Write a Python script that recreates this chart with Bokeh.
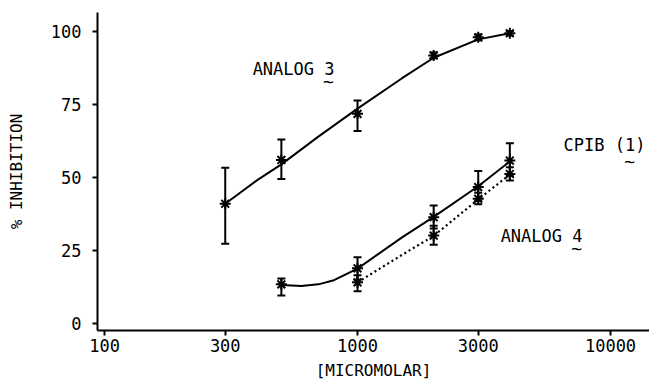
from bokeh.plotting import figure
from bokeh.models import (FixedTicker, PrintfTickFormatter, Whisker, TeeHead,
                          ColumnDataSource, Label, Range1d)
from bokeh.embed import file_html
from bokeh.resources import INLINE

# ---- data ----
x_ticks = [100, 300, 1000, 3000, 10000]
y_ticks = [0, 25, 50, 75, 100]

conc_a3 = [300, 500, 1000, 2000, 3000, 4000]
inh_a3 = [41.0, 56.0, 71.8, 91.8, 98.0, 99.4]
lo_a3 = [27.3, 49.5, 65.9, 90.8, 97.0, 98.6]
hi_a3 = [53.3, 63.0, 76.4, 92.8, 99.0, 100.2]

conc_c = [500, 1000, 2000, 3000, 4000]
inh_c = [13.4, 18.9, 36.4, 46.7, 55.8]
lo_c = [9.6, 15.0, 32.5, 42.0, 50.5]
hi_c = [15.4, 22.7, 40.4, 52.2, 61.7]

conc_a4 = [1000, 2000, 3000, 4000]
inh_a4 = [14.1, 30.1, 42.7, 51.2]
lo_a4 = [11.0, 27.0, 40.8, 49.0]
hi_a4 = [16.5, 33.5, 44.8, 53.5]

# fitted curves as drawn in the picture
fit_a3_x = [300, 400, 500, 700, 1000, 1500, 2000, 3000, 4000]
fit_a3_y = [41.0, 49.0, 54.5, 64.0, 73.6, 84.0, 91.0, 97.3, 99.4]
fit_c_x = [500, 600, 700, 800, 1000, 1500, 2000, 3000, 4000]
fit_c_y = [13.2, 12.8, 13.4, 14.7, 18.8, 29.5, 36.5, 47.0, 55.5]
fit_a4_x = [1000, 1500, 2000, 3000, 4000]
fit_a4_y = [14.1, 23.5, 30.0, 42.5, 51.0]

FONT = "DejaVu Sans Mono"
BLACK = "#000000"

p = figure(width=649, height=382, x_axis_type="log",
           x_range=Range1d(93.8, 14260), y_range=Range1d(-2.4, 106.5),
           output_backend="svg", toolbar_location=None,
           min_border_left=97, min_border_right=0, min_border_top=12,
           min_border_bottom=52,
           x_axis_label="[MICROMOLAR]", y_axis_label="% INHIBITION")
p.grid.visible = False
p.outline_line_color = None
p.background_fill_color = "white"
p.border_fill_color = "white"

for ax in (p.xaxis[0], p.yaxis[0]):
    ax.axis_line_width = 2
    ax.axis_line_color = BLACK
    ax.major_tick_line_width = 2
    ax.major_tick_line_color = BLACK
    ax.major_tick_in = 0
    ax.major_tick_out = 5
    ax.minor_tick_line_color = None
    ax.major_label_text_font = FONT
    ax.major_label_text_font_size = "17px"
    ax.major_label_text_color = BLACK
    ax.axis_label_text_font = FONT
    ax.axis_label_text_font_size = "16px"
    ax.axis_label_text_font_style = "normal"
    ax.axis_label_text_color = BLACK

p.xaxis.ticker = FixedTicker(ticks=x_ticks)
p.xaxis.formatter = PrintfTickFormatter(format="%d")
p.xaxis.major_label_standoff = 3
p.xaxis.axis_label_standoff = 6
p.yaxis.ticker = FixedTicker(ticks=y_ticks)
p.yaxis.major_label_standoff = 11
p.yaxis.axis_label_standoff = 22

# curves
p.line(fit_a3_x, fit_a3_y, line_color=BLACK, line_width=2)
p.line(fit_c_x, fit_c_y, line_color=BLACK, line_width=2)
p.line(fit_a4_x, fit_a4_y, line_color=BLACK, line_width=2.2, line_dash="2 3")

def add_series(xs, ys, lo, hi):
    src = ColumnDataSource(dict(x=xs, y=ys, lo=lo, hi=hi))
    w = Whisker(source=src, base="x", upper="hi", lower="lo", dimension="height",
                line_color=BLACK, line_width=2,
                upper_head=TeeHead(size=8, line_width=2, line_color=BLACK),
                lower_head=TeeHead(size=8, line_width=2, line_color=BLACK))
    p.add_layout(w)
    p.scatter("x", "y", source=src, marker="asterisk", size=11,
              line_color=BLACK, line_width=2)

add_series(conc_a3, inh_a3, lo_a3, hi_a3)
add_series(conc_c, inh_c, lo_c, hi_c)
add_series(conc_a4, inh_a4, lo_a4, hi_a4)

def lab(x, y, text, align="center", size="17px"):
    p.add_layout(Label(x=x, y=y, text=text, text_font=FONT, text_font_size=size,
                       text_color=BLACK, text_align=align, text_baseline="middle"))

lab(811, 87.3, "ANALOG 3", align="right")
lab(768, 83.0, "~", size="18px")
lab(13750, 61.2, "CPIB (1)", align="right")
lab(11900, 55.5, "~", size="18px")
lab(7750, 30.1, "ANALOG 4", align="right")
lab(7350, 25.6, "~", size="18px")

open("out.html", "w").write(file_html(p, INLINE))
